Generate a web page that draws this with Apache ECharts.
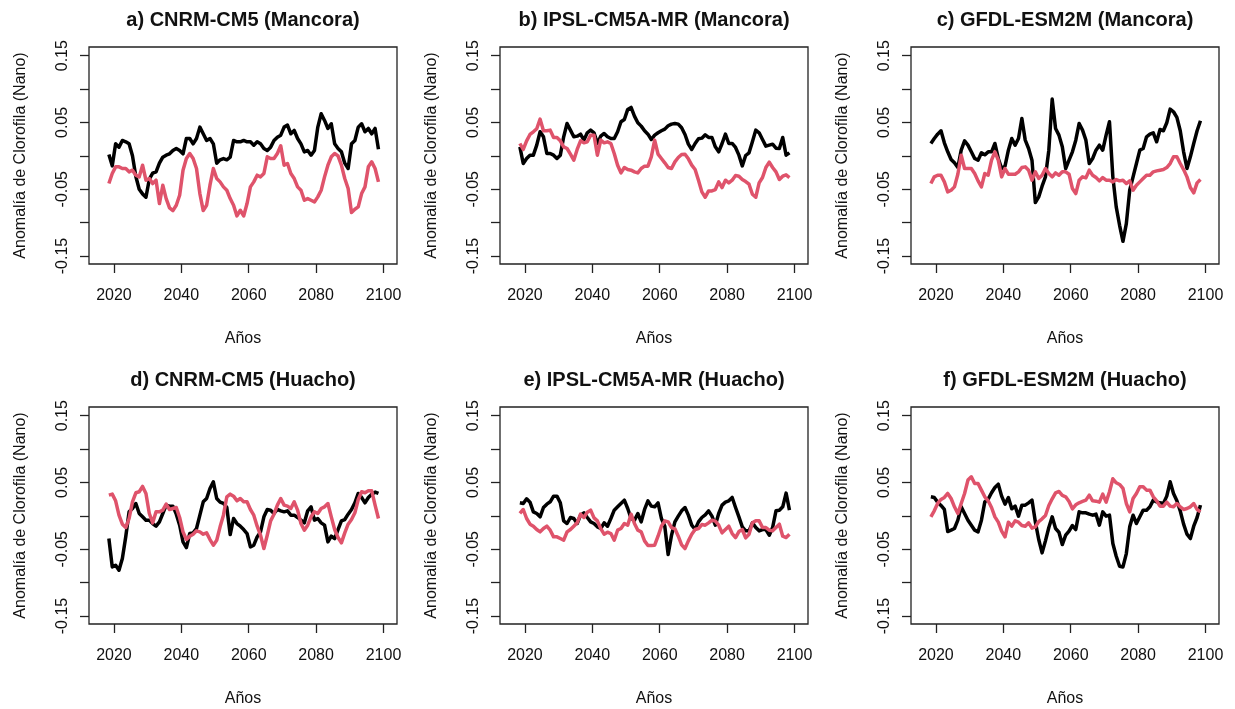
<!DOCTYPE html>
<html><head><meta charset="utf-8">
<script src="https://cdn.jsdelivr.net/npm/echarts@6/dist/echarts.min.js"></script>
<style>html,body{margin:0;padding:0;background:#fff}#c{width:1235px;height:709px}</style>
</head><body><div id="c"></div>
<script>
// ---- data (yearly samples, 2018.5 .. 2098.5) ----
const START_YEAR = 2018.5;
const titles = [
  'a) CNRM-CM5 (Mancora)', 'b) IPSL-CM5A-MR (Mancora)', 'c) GFDL-ESM2M (Mancora)',
  'd) CNRM-CM5 (Huacho)', 'e) IPSL-CM5A-MR (Huacho)', 'f) GFDL-ESM2M (Huacho)'
];
const yTickValues = [-0.15, -0.10, -0.05, 0, 0.05, 0.10, 0.15];
const yLabelValues = [-0.15, -0.05, 0.05, 0.15];
const xTickValues = [2020, 2040, 2060, 2080, 2100];

const aBlack = [0.002,-0.015,0.018,0.013,0.023,0.021,0.018,0.000,-0.031,-0.050,
 -0.057,-0.062,-0.035,-0.026,-0.024,-0.011,-0.002,0.001,0.003,0.008,
 0.011,0.008,0.003,0.026,0.026,0.018,0.026,0.043,0.033,0.023,
 0.026,0.018,-0.011,-0.006,-0.004,-0.006,-0.002,0.023,0.021,0.021,
 0.023,0.021,0.021,0.016,0.021,0.018,0.011,0.008,0.013,0.023,
 0.028,0.031,0.043,0.046,0.033,0.038,0.026,0.018,0.006,0.008,
 0.001,0.008,0.043,0.063,0.053,0.041,0.048,0.018,0.011,0.006,
 -0.011,-0.019,0.018,0.023,0.043,0.048,0.036,0.041,0.033,0.041,
 0.010];
const aRed = [-0.0415,-0.0265,-0.0165,-0.0165,-0.019,-0.019,-0.024,-0.0215,-0.029,-0.0315,
 -0.014,-0.0365,-0.034,-0.0415,-0.0365,-0.0715,-0.044,-0.064,-0.078,-0.082,
 -0.074,-0.059,-0.0215,-0.004,0.0035,-0.004,-0.019,-0.0565,-0.082,-0.074,
 -0.044,-0.019,-0.034,-0.039,-0.0465,-0.0515,-0.064,-0.074,-0.09,-0.0815,
 -0.09,-0.0715,-0.0465,-0.039,-0.029,-0.0315,-0.0265,-0.0015,-0.004,-0.004,
 0.0035,0.015,-0.014,-0.0115,-0.0265,-0.034,-0.0465,-0.0515,-0.0665,-0.064,
 -0.0665,-0.069,-0.0615,-0.0515,-0.0315,-0.014,-0.0015,0.0035,0.0,-0.014,
 -0.034,-0.049,-0.085,-0.08,-0.0765,-0.0565,-0.0465,-0.0165,-0.009,-0.019,
 -0.039];
const bBlack = [0.0135,-0.0115,-0.004,0.001,0.001,0.016,0.036,0.0285,0.0035,0.0035,
 0.001,-0.004,0.001,0.0285,0.0485,0.0385,0.0285,0.0295,0.0325,0.0235,
 0.0345,0.0385,0.0345,0.0185,0.0295,0.0335,0.0285,0.026,0.026,0.036,
 0.051,0.0545,0.0695,0.0725,0.0595,0.0495,0.0445,0.0375,0.0325,0.0245,
 0.031,0.0345,0.0375,0.04,0.045,0.0475,0.0485,0.0475,0.042,0.032,
 0.0175,0.0095,0.0185,0.0255,0.0265,0.0315,0.0275,0.0275,0.0135,0.006,
 0.0185,0.0325,0.0185,0.0185,0.0125,0.001,-0.015,0.0005,0.0045,0.021,
 0.0385,0.0345,0.0245,0.0145,0.016,0.0175,0.0115,0.011,0.0275,0.001,
 0.0045];
const bRed = [0.0185,0.0095,0.0225,0.032,0.036,0.0405,0.055,0.0375,0.0375,0.0385,
 0.0275,0.0275,0.0225,0.0135,0.011,0.0025,-0.0065,0.0095,0.0225,0.0195,
 0.021,0.031,0.031,0.001,0.0235,0.0195,0.021,0.0185,0.0035,-0.014,
 -0.0255,-0.0175,-0.0205,-0.0215,-0.024,-0.0255,-0.019,-0.0155,-0.0155,-0.0015,
 0.0235,0.0025,-0.004,-0.0105,-0.0175,-0.019,-0.009,-0.0025,0.002,0.0025,
 -0.0045,-0.014,-0.0205,-0.0365,-0.054,-0.062,-0.0525,-0.0525,-0.0505,-0.039,
 -0.0475,-0.0365,-0.0405,-0.0365,-0.0295,-0.0305,-0.0355,-0.0385,-0.0425,-0.0575,
 -0.062,-0.0405,-0.0325,-0.0175,-0.0095,-0.0175,-0.024,-0.0355,-0.0305,-0.0285,
 -0.0325];
const cBlack = [0.0185,0.026,0.0325,0.0375,0.0195,0.006,-0.0055,-0.0105,-0.0175,0.0085,
 0.0225,0.016,0.006,-0.004,-0.0065,0.0045,0.0015,0.006,0.006,0.0185,
 -0.004,-0.019,-0.0155,0.0085,0.026,0.016,0.026,0.056,0.0235,0.011,
 -0.0065,-0.07,-0.0615,-0.0455,-0.0315,0.0085,0.085,0.041,0.031,0.0135,
 -0.019,-0.0065,0.006,0.0235,0.0485,0.0385,0.0235,-0.0115,-0.004,0.0085,
 0.016,0.0085,0.031,0.051,-0.0315,-0.0765,-0.104,-0.128,-0.1015,-0.0515,
 -0.0315,-0.0115,0.0085,0.011,0.0285,0.0325,0.0345,0.021,0.0395,0.0375,
 0.0495,0.07,0.066,0.0575,0.0375,0.006,-0.019,-0.0015,0.0185,0.0375,
 0.0525];
const cRed = [-0.0415,-0.0315,-0.029,-0.029,-0.039,-0.054,-0.0515,-0.0465,-0.0275,0.001,
 -0.019,-0.019,-0.019,-0.0265,-0.0375,-0.0465,-0.0265,-0.029,-0.0065,0.006,
 -0.0065,-0.0315,-0.019,-0.0275,-0.0275,-0.0275,-0.024,-0.0175,-0.0165,-0.0215,
 -0.0365,-0.024,-0.034,-0.029,-0.019,-0.0265,-0.0315,-0.0255,-0.029,-0.024,
 -0.024,-0.0275,-0.049,-0.0565,-0.0365,-0.0315,-0.033,-0.0215,-0.029,-0.0325,
 -0.0375,-0.0325,-0.0365,-0.0365,-0.039,-0.0355,-0.0375,-0.0365,-0.0415,-0.0375,
 -0.0515,-0.044,-0.039,-0.034,-0.029,-0.029,-0.024,-0.0225,-0.0215,-0.0205,
 -0.0175,-0.0115,-0.0015,-0.0015,-0.0115,-0.0205,-0.0315,-0.0475,-0.0555,-0.0405,
 -0.0355];
const dBlack = [-0.034,-0.0765,-0.074,-0.0815,-0.064,-0.0315,0.006,0.011,0.0185,0.0035,
 -0.0015,-0.0065,-0.0065,-0.0115,-0.0155,-0.009,0.0035,0.016,0.0145,0.0145,
 0.0025,-0.014,-0.039,-0.0475,-0.0265,-0.0255,-0.019,0.001,0.021,0.026,
 0.041,0.051,0.026,0.0205,0.0185,0.0125,-0.028,-0.004,-0.0115,-0.0155,
 -0.0205,-0.0265,-0.0465,-0.044,-0.0315,-0.024,-0.0015,0.0095,0.0085,0.0035,
 0.0095,0.0075,0.006,0.0075,0.001,0.001,-0.0025,-0.0065,-0.0105,0.0075,
 0.0135,-0.0065,-0.004,-0.0105,-0.014,-0.039,-0.0305,-0.034,-0.0205,-0.0075,
 -0.0055,0.0025,0.0095,0.0195,0.0335,0.0275,0.0195,0.0275,0.0325,0.0355,
 0.0335];
const dRed = [0.031,0.0325,0.0225,0.001,-0.0125,-0.0175,-0.004,0.021,0.0345,0.036,
 0.044,0.0335,0.0035,-0.0105,0.006,0.006,0.0085,0.0175,0.0095,0.011,
 0.0125,-0.0025,-0.024,-0.0355,-0.0305,-0.0275,-0.0225,-0.024,-0.0275,-0.0255,
 -0.0355,-0.044,-0.0365,-0.0165,0.001,0.0285,0.0325,0.0295,0.0225,0.026,
 0.021,0.021,0.0095,0.001,-0.0155,-0.029,-0.049,-0.029,-0.0075,0.0025,
 0.016,0.026,0.016,0.0145,0.011,0.021,0.0085,-0.0115,-0.0215,-0.014,
 -0.0015,0.006,0.0035,0.011,0.0135,0.0185,-0.0015,-0.0205,-0.0325,-0.0405,
 -0.0255,-0.0125,-0.0055,0.0045,0.0245,0.036,0.0345,0.0375,0.0375,0.016,
 -0.004];
const eBlack = [0.0195,0.0185,0.0255,0.0205,0.006,0.0035,-0.0015,0.0125,0.0175,0.021,
 0.0295,0.0295,0.0195,-0.0075,-0.0115,-0.0025,-0.004,-0.0115,0.001,0.0045,
 -0.0025,-0.009,-0.0115,-0.0165,-0.019,-0.0105,-0.0155,-0.004,0.0085,0.0135,
 0.0185,0.0235,0.011,-0.004,-0.0065,0.0035,-0.009,0.0095,0.0225,0.0145,
 0.0135,0.0195,-0.004,-0.0155,-0.058,-0.029,-0.009,-0.0005,0.0075,0.0125,
 0.001,-0.014,-0.0205,-0.009,-0.0025,0.0015,0.0075,-0.0005,-0.014,0.0035,
 0.016,0.0205,0.0225,0.0275,0.0125,-0.0015,-0.0165,-0.0225,-0.0225,-0.0105,
 -0.0175,-0.0225,-0.0205,-0.0205,-0.029,-0.0175,0.0075,0.0085,0.0135,0.034,
 0.0085];
const eRed = [0.0035,0.0095,-0.004,-0.0125,-0.0155,-0.0205,-0.024,-0.019,-0.0155,-0.0215,
 -0.0315,-0.0315,-0.034,-0.0365,-0.024,-0.0205,-0.0155,-0.0105,0.0025,-0.0025,
 0.0055,0.0085,-0.003,-0.0075,-0.019,-0.0275,-0.0245,-0.0265,-0.0365,-0.0215,
 -0.019,-0.0115,-0.014,0.0025,-0.0115,-0.0215,-0.024,-0.0375,-0.0445,-0.0445,
 -0.044,-0.0305,-0.0155,-0.0075,-0.009,-0.0175,-0.0195,-0.0305,-0.0435,-0.049,
 -0.0375,-0.0275,-0.0205,-0.019,-0.013,-0.014,-0.0105,-0.0065,-0.008,-0.014,
 -0.0255,-0.0205,-0.0155,-0.0265,-0.0325,-0.0235,-0.0205,-0.033,-0.0275,-0.0105,
 -0.0075,-0.0075,-0.0175,-0.0175,-0.0215,-0.0225,-0.0175,-0.0125,-0.0305,-0.0325,
 -0.0275];
const fBlack = [0.0285,0.0275,0.0205,0.0155,0.0095,-0.0235,-0.0215,-0.019,-0.0065,0.0135,
 0.0035,-0.0065,-0.014,-0.0215,-0.024,-0.0065,0.021,0.025,0.0345,0.0425,
 0.0475,0.0295,0.0175,0.0275,0.0105,0.0145,-0.0005,0.016,0.016,0.0195,
 0.0235,-0.009,-0.0355,-0.0555,-0.0375,-0.0175,-0.0015,-0.019,-0.0245,-0.043,
 -0.029,-0.023,-0.0145,-0.0205,0.006,0.0045,0.0045,0.0025,0.001,0.0025,
 -0.014,0.006,-0.0005,0.001,-0.0415,-0.0605,-0.0755,-0.0765,-0.0565,-0.0165,
 0.001,-0.0115,-0.0015,0.0085,0.0085,0.0135,0.0235,0.021,0.0195,0.0185,
 0.0295,0.051,0.0335,0.0225,0.0075,-0.0125,-0.0275,-0.034,-0.0155,-0.0025,
 0.016];
const fRed = [-0.0015,0.0075,0.0185,0.0245,0.0275,0.0335,0.026,0.0135,0.0035,0.0185,
 0.0335,0.0535,0.0585,0.0485,0.0485,0.0385,0.0285,0.0225,0.0125,-0.0015,
 -0.0095,-0.023,-0.0315,-0.0095,-0.0155,-0.0075,-0.0095,-0.0145,-0.0155,-0.0105,
 -0.0185,-0.0165,-0.0085,-0.0045,0.0005,0.0155,0.0255,0.0345,0.0365,0.0305,
 0.0285,0.0215,0.0105,0.0165,0.0195,0.0215,0.0235,0.031,0.0225,0.022,
 0.0205,0.0325,0.0205,0.036,0.0555,0.0495,0.047,0.041,0.0185,0.006,
 0.026,0.0335,0.0435,0.0435,0.0385,0.0385,0.0285,0.0225,0.0145,0.0145,
 0.0205,0.0145,0.0135,0.0185,0.0135,0.0095,0.011,0.0135,0.0185,0.0095,
 0.006];

const blackSeries = [aBlack, bBlack, cBlack, dBlack, eBlack, fBlack];
const redSeries = [aRed, bRed, cRed, dRed, eRed, fRed];

// ---- layout / style ----
const FONT = "'Liberation Sans', Arial, Helvetica, sans-serif";
const TXT = '#111';
const panelPos = [[89,47],[500,47],[911,47],[89,407],[500,407],[911,407]];
const PW = 308, PH = 217;

function toPairs(vals) { return vals.map((v, i) => [START_YEAR + i, v]); }

const grid = [], xAxis = [], yAxis = [], series = [], title = [];
panelPos.forEach(([l, t], i) => {
  grid.push({left: l, top: t, width: PW, height: PH, show: true,
    borderColor: '#222', borderWidth: 1.3, backgroundColor: 'transparent', containLabel: false});
  title.push({text: titles[i], left: l + PW / 2, top: t - 37, textAlign: 'center', padding: 0,
    textStyle: {fontFamily: FONT, fontSize: 20, fontWeight: 'bold', color: TXT}});
  xAxis.push({type: 'value', gridIndex: i, min: 2012.6, max: 2104, position: 'bottom',
    name: 'Años', nameLocation: 'middle', nameGap: 67,
    nameTextStyle: {fontFamily: FONT, fontSize: 16, color: TXT},
    axisLine: {show: false, onZero: false}, splitLine: {show: false},
    axisTick: {show: true, inside: false, length: 9, customValues: xTickValues,
      lineStyle: {color: '#222', width: 1.3}},
    axisLabel: {customValues: xTickValues, margin: 24, fontFamily: FONT, fontSize: 16, color: TXT,
      formatter: v => String(v)}
  });
  yAxis.push({type: 'value', gridIndex: i, min: -0.162, max: 0.163, position: 'left',
    name: 'Anomalía de Clorofila (Nano)', nameLocation: 'middle', nameGap: 60, nameRotate: 90,
    nameTextStyle: {fontFamily: FONT, fontSize: 16, color: TXT},
    axisLine: {show: false, onZero: false}, splitLine: {show: false},
    axisTick: {show: true, inside: false, length: 9, customValues: yTickValues,
      lineStyle: {color: '#222', width: 1.3}},
    axisLabel: {customValues: yLabelValues, rotate: 90, margin: 18, fontFamily: FONT, fontSize: 16, color: TXT,
      formatter: v => v.toFixed(2)}
  });
  series.push({type: 'line', xAxisIndex: i, yAxisIndex: i, data: toPairs(blackSeries[i]),
    showSymbol: false, symbol: 'none', lineStyle: {color: '#000000', width: 3.5, join: 'round'}, z: 2});
  series.push({type: 'line', xAxisIndex: i, yAxisIndex: i, data: toPairs(redSeries[i]),
    showSymbol: false, symbol: 'none', lineStyle: {color: '#DF536B', width: 3.5, join: 'round'}, z: 3});
});

const chart = echarts.init(document.getElementById('c'), null, {renderer: 'canvas'});
chart.setOption({animation: false, backgroundColor: '#ffffff', title, grid, xAxis, yAxis, series});
</script>
</body></html>
